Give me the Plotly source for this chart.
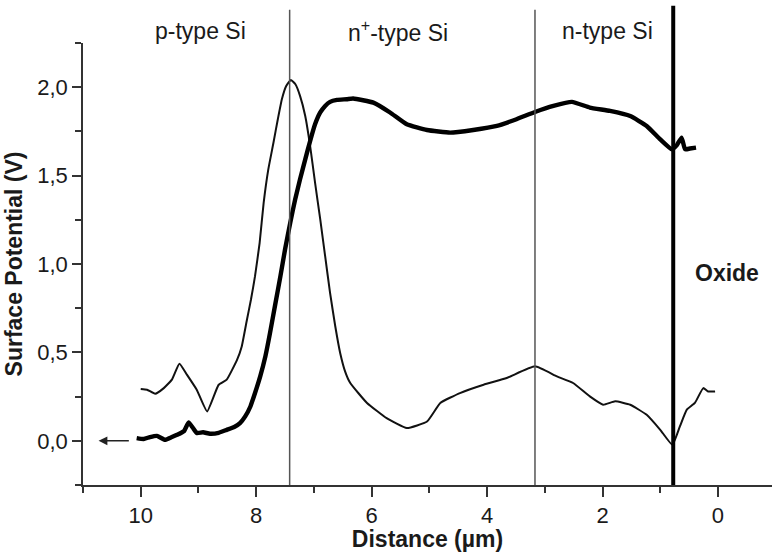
import plotly.graph_objects as go

# Thin curve (peaked profile)
thin_x = [10.0, 9.89, 9.75, 9.6, 9.46, 9.33, 9.2, 9.03, 8.85, 8.65, 8.51, 8.33, 8.25, 8.16, 8.09,
          8.02, 7.94, 7.87, 7.79, 7.70, 7.625, 7.555, 7.48, 7.40, 7.32, 7.24, 7.15, 7.065, 6.98,
          6.89, 6.805, 6.72, 6.63, 6.545, 6.46, 6.37, 6.08, 5.74, 5.39, 5.04, 4.81, 4.47, 4.06,
          3.66, 3.17, 2.79, 2.51, 2.22, 1.99, 1.78, 1.52, 1.235, 1.0, 0.79, 0.66, 0.54, 0.40, 0.255,
          0.17, 0.05]
thin_y = [0.293, 0.289, 0.266, 0.298, 0.346, 0.436, 0.374, 0.289, 0.166, 0.317, 0.346, 0.459, 0.534,
          0.685, 0.799, 0.931, 1.120, 1.347, 1.535, 1.687, 1.819, 1.932, 2.007, 2.041, 2.017, 1.951,
          1.837, 1.667, 1.460, 1.252, 1.044, 0.837, 0.648, 0.497, 0.393, 0.327, 0.214, 0.128, 0.072,
          0.109, 0.214, 0.270, 0.317, 0.355, 0.421, 0.364, 0.327, 0.251, 0.204, 0.223, 0.204, 0.147,
          0.062, -0.023, 0.081, 0.176, 0.214, 0.298, 0.279, 0.279]

# Thick curve (plateau profile)
thick_x = [10.07, 9.95, 9.84, 9.72, 9.58, 9.47, 9.37, 9.25, 9.17, 9.1, 9.03, 8.92, 8.80, 8.65, 8.51,
           8.38, 8.28, 8.19, 8.10, 8.02, 7.93, 7.84, 7.76, 7.67, 7.58, 7.50, 7.41, 7.325, 7.24, 7.15,
           7.065, 6.98, 6.89, 6.805, 6.72, 6.60, 6.43, 6.32, 5.97, 5.68, 5.39, 5.04, 4.64, 4.24,
           3.83, 3.49, 3.17, 2.85, 2.53, 2.22, 1.87, 1.52, 1.235, 1.0, 0.80, 0.715, 0.63, 0.57,
           0.485, 0.38]
thick_y = [0.015, 0.010, 0.021, 0.028, 0.006, 0.020, 0.034, 0.055, 0.104, 0.075, 0.044, 0.048, 0.040,
           0.045, 0.062, 0.078, 0.100, 0.138, 0.194, 0.270, 0.364, 0.478, 0.610, 0.771, 0.931, 1.082,
           1.233, 1.365, 1.479, 1.592, 1.696, 1.790, 1.857, 1.894, 1.917, 1.928, 1.932, 1.936, 1.913,
           1.857, 1.790, 1.758, 1.743, 1.758, 1.781, 1.819, 1.860, 1.894, 1.917, 1.885, 1.866, 1.837,
           1.781, 1.705, 1.649, 1.671, 1.715, 1.649, 1.653, 1.658]

# Region boundaries (µm)
thin_bounds = [7.42, 3.17]
oxide_bound = 0.775

region_labels = ["p-type Si", "n<sup>+</sup>-type Si", "n-type Si"]
region_label_x = [8.97, 5.54, 1.92]

x_tickvals = [0, 2, 4, 6, 8, 10]
y_tickvals = [0.0, 0.5, 1.0, 1.5, 2.0]

FONT = "Liberation Sans, Arial, sans-serif"
TXT = "#1a1a1a"
AX = "#333333"

fig = go.Figure()
fig.add_trace(go.Scatter(x=thin_x, y=thin_y, mode="lines",
                         line=dict(color="#111111", width=2, shape="spline", smoothing=0.4),
                         showlegend=False, hoverinfo="skip"))
fig.add_trace(go.Scatter(x=thick_x, y=thick_y, mode="lines",
                         line=dict(color="#000000", width=4.4, shape="spline", smoothing=0.4),
                         showlegend=False, hoverinfo="skip"))

for xb in thin_bounds:
    fig.add_shape(type="line", xref="x", yref="paper", x0=xb, x1=xb, y0=0, y1=1.075,
                  line=dict(color="#555555", width=1.5))
fig.add_shape(type="line", xref="x", yref="paper", x0=oxide_bound, x1=oxide_bound, y0=0, y1=1.084,
              line=dict(color="#000000", width=4))

for lx, lt in zip(region_label_x, region_labels):
    fig.add_annotation(x=lx, y=1.027, xref="x", yref="paper", text=lt, showarrow=False,
                       font=dict(family=FONT, size=23, color=TXT), xanchor="center", yanchor="middle")
fig.add_annotation(x=-0.154, y=0.95, xref="x", yref="y", text="<b>Oxide</b>", showarrow=False,
                   font=dict(family=FONT, size=23, color=TXT), xanchor="center", yanchor="middle")

# Arrow pointing to the left axis
fig.add_annotation(x=10.73, y=0.0, ax=10.18, ay=0.0, xref="x", yref="y", axref="x", ayref="y",
                   text="", showarrow=True, arrowhead=2, arrowsize=1.1, arrowwidth=1.6,
                   arrowcolor="#222222")

fig.update_layout(
    width=772, height=552,
    margin=dict(l=83, r=0, t=43, b=67),
    paper_bgcolor="white", plot_bgcolor="white",
    separators=", ",
    font=dict(family=FONT, size=20, color=TXT),
    xaxis=dict(range=[11, -0.936], tickvals=x_tickvals, ticks="outside", ticklen=10, tickwidth=1.5,
               tickcolor=AX, showline=True, linecolor=AX, linewidth=1.5, showgrid=False,
               zeroline=False, tickfont=dict(size=22),
               minor=dict(dtick=1, tick0=0, ticks="outside", ticklen=6, tickwidth=1.5, tickcolor=AX,
                          showgrid=False),
               title=dict(text="<b>Distance (µm)</b>", font=dict(size=23), standoff=2)),
    yaxis=dict(range=[-0.25, 2.25], tickvals=y_tickvals, tickformat=".1f", ticks="outside",
               ticklen=9, tickwidth=1.5, tickcolor=AX, showline=True, linecolor=AX, linewidth=1.5,
               showgrid=False, zeroline=False, tickfont=dict(size=22),
               minor=dict(dtick=0.25, tick0=0, ticks="outside", ticklen=6, tickwidth=1.5,
                          tickcolor=AX, showgrid=False),
               title=dict(text="<b>Surface Potential (V)</b>", font=dict(size=23), standoff=8)),
)

fig.write_html("out.html")
